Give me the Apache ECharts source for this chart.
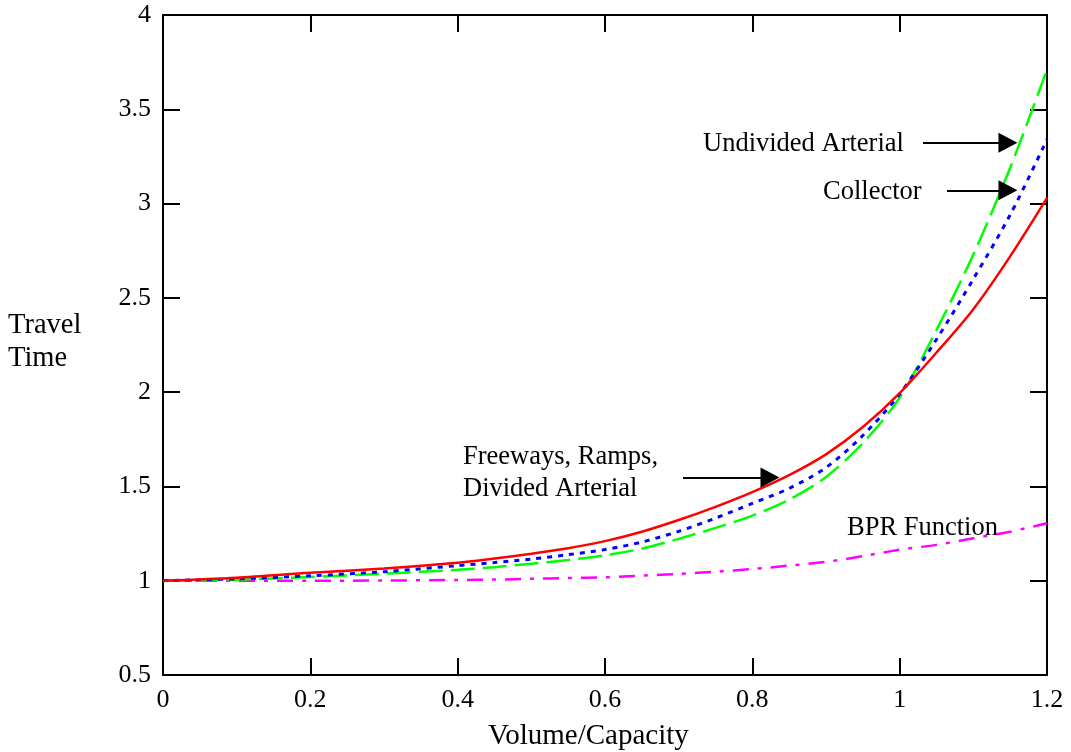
<!DOCTYPE html>
<html>
<head>
<meta charset="utf-8">
<script src="https://cdn.jsdelivr.net/npm/echarts@6/dist/echarts.min.js"></script>
<style>html,body{margin:0;padding:0;background:#fff;}#chart{width:1071px;height:752px;}</style>
</head>
<body>
<div id="chart"></div>
<script>
// Volume/Capacity sample points
var vc = [0, 0.1, 0.2, 0.3, 0.4, 0.45, 0.5, 0.55, 0.6, 0.65, 0.7, 0.75, 0.8, 0.85, 0.9, 0.95, 1.0, 1.05, 1.1, 1.15, 1.2];
// Travel time values
var freeways  = [1.0, 1.016, 1.042, 1.065, 1.095, 1.118, 1.143, 1.172, 1.21, 1.26, 1.322, 1.392, 1.47, 1.56, 1.67, 1.815, 1.995, 2.21, 2.44, 2.72, 3.03];
var collector = [1.0, 1.010, 1.026, 1.048, 1.080, 1.096, 1.115, 1.138, 1.165, 1.205, 1.262, 1.332, 1.41, 1.49, 1.60, 1.77, 1.99, 2.28, 2.60, 2.94, 3.34];
var undivided = [1.0, 1.005, 1.020, 1.037, 1.058, 1.072, 1.09, 1.11, 1.135, 1.17, 1.222, 1.28, 1.345, 1.43, 1.55, 1.73, 1.97, 2.33, 2.73, 3.19, 3.71];
var bpr       = [1.0, 1.0, 1.0, 1.001, 1.004, 1.006, 1.01, 1.014, 1.018, 1.027, 1.036, 1.048, 1.062, 1.08, 1.10, 1.13, 1.165, 1.19, 1.225, 1.26, 1.305];
var xTicks = [0, 0.2, 0.4, 0.6, 0.8, 1, 1.2];
var yTicks = [0.5, 1, 1.5, 2, 2.5, 3, 3.5, 4];
// annotation arrows in data units [x0, x1, y]
var arrows = [[1.0316, 1.147, 3.323], [1.0642, 1.147, 3.07], [0.7059, 0.824, 1.547]];

function pairs(ys){ return vc.map(function(x,i){ return [x, ys[i]]; }); }

var font = '"Liberation Serif", "Times New Roman", serif';
var chart = echarts.init(document.getElementById('chart'), null, {renderer:'canvas'});
var axisCommon = {
  axisLine:{show:true, onZero:false, lineStyle:{color:'#000', width:2}},
  axisTick:{show:true, inside:true, length:17, lineStyle:{color:'#000', width:2}},
  splitLine:{show:false}
};
var option = {
  animation:false,
  backgroundColor:'#fff',
  grid:{left:163, right:24, top:15, bottom:77},
  xAxis:[
    Object.assign({type:'value', position:'bottom', min:xTicks[0], max:xTicks[xTicks.length-1], interval:0.2,
      axisLabel:{show:true, margin:12, color:'#000', fontFamily:font, fontSize:26}}, axisCommon),
    Object.assign({type:'value', position:'top', min:xTicks[0], max:xTicks[xTicks.length-1], interval:0.2,
      axisLabel:{show:false}}, axisCommon)
  ],
  yAxis:[
    Object.assign({type:'value', position:'left', min:yTicks[0], max:yTicks[yTicks.length-1], interval:0.5,
      axisLabel:{show:true, margin:12, color:'#000', fontFamily:font, fontSize:26}}, axisCommon),
    Object.assign({type:'value', position:'right', min:yTicks[0], max:yTicks[yTicks.length-1], interval:0.5,
      axisLabel:{show:false}}, axisCommon)
  ],
  series:[
    {name:'BPR Function', type:'line', data:pairs(bpr), showSymbol:false, smooth:0.3,
      lineStyle:{color:'#ff00ff', width:2.5, type:[16,9,4,9]}},
    {name:'Undivided Arterial', type:'line', data:pairs(undivided), showSymbol:false, smooth:0.3,
      lineStyle:{color:'#00ff00', width:2.5, type:[24,8]}},
    {name:'Collector', type:'line', data:pairs(collector), showSymbol:false, smooth:0.3,
      lineStyle:{color:'#0000ff', width:3, type:[5,6]}},
    {name:'Freeways, Ramps, Divided Arterial', type:'line', data:pairs(freeways), showSymbol:false, smooth:0.3,
      lineStyle:{color:'#ff0000', width:2.5, type:'solid'},
      markLine:{silent:true, symbol:['none','triangle'], symbolSize:[20,19], label:{show:false},
        lineStyle:{color:'#000', width:2, type:'solid'},
        itemStyle:{color:'#000'},
        data: arrows.map(function(a){ return [{coord:[a[0], a[2]]}, {coord:[a[1], a[2]]}]; })
      }}
  ],
  graphic:[
    {type:'text', left:8, top:309, style:{text:'Travel\nTime', font:'28.5px '+font, fill:'#000', lineHeight:33}},
    {type:'text', left:488, top:722, style:{text:'Volume/Capacity', font:'29px '+font, fill:'#000'}},
    {type:'text', left:703, top:131, style:{text:'Undivided Arterial', font:'26.5px '+font, fill:'#000'}},
    {type:'text', left:823, top:179, style:{text:'Collector', font:'26.5px '+font, fill:'#000'}},
    {type:'text', left:463, top:441, style:{text:'Freeways, Ramps,\nDivided Arterial', font:'26.5px '+font, fill:'#000', lineHeight:32}},
    {type:'text', left:847, top:515, style:{text:'BPR Function', font:'26.5px '+font, fill:'#000'}}
  ]
};
chart.setOption(option);
</script>
</body>
</html>
